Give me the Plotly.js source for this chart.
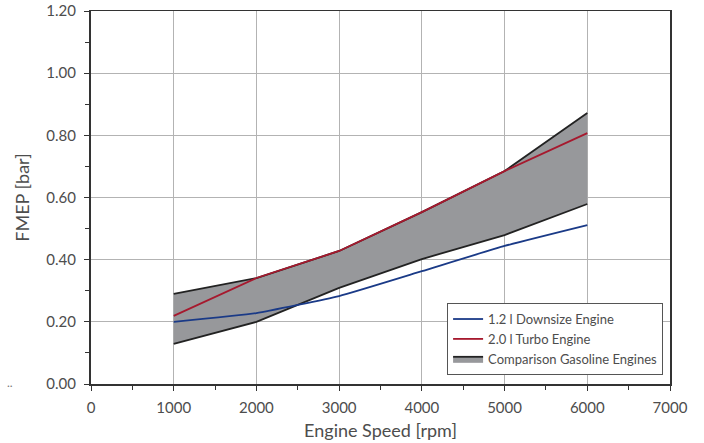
<!DOCTYPE html>
<html>
<head>
<meta charset="utf-8">
<script src="https://cdn.plot.ly/plotly-3.0.1.min.js"></script>
<style>
  html, body { margin: 0; padding: 0; background: #fff; }
  #chart { width: 704px; height: 443px; }
</style>
</head>
<body>
<div id="chart"></div>
<script>
// Engine speed sample points [rpm]
const speed = [1000, 2000, 3000, 4000, 5000, 6000];

// FMEP [bar]
const downsize12 = [0.20, 0.228, 0.283, 0.363, 0.444, 0.511];
const turbo20 = [0.219, 0.341, 0.428, 0.553, 0.685, 0.807];
const gasolineLow = [0.129, 0.200, 0.309, 0.402, 0.479, 0.579];
const gasolineHigh = [0.290, 0.341, 0.428, 0.553, 0.685, 0.872];

const xTicks = [0, 1000, 2000, 3000, 4000, 5000, 6000, 7000];
const yTicks = [0, 0.2, 0.4, 0.6, 0.8, 1.0, 1.2];

const textColor = '#4d4d4d';
const fontFamily = 'Lato, Open Sans, Liberation Sans, sans-serif';

const traces = [
  {
    x: speed, y: gasolineLow, mode: 'lines', type: 'scatter',
    line: { color: '#222222', width: 1.8 },
    showlegend: false, hoverinfo: 'skip'
  },
  {
    x: speed, y: gasolineHigh, mode: 'lines', type: 'scatter',
    fill: 'tonexty', fillcolor: '#97989b',
    line: { color: '#222222', width: 1.8 },
    name: 'Comparison Gasoline Engines', legendrank: 3
  },
  {
    x: speed, y: downsize12, mode: 'lines', type: 'scatter',
    line: { color: '#1a3a87', width: 1.8, shape: 'spline', smoothing: 0.4 },
    name: '1.2 l Downsize Engine', legendrank: 1
  },
  {
    x: speed, y: turbo20, mode: 'lines', type: 'scatter',
    line: { color: '#a6192e', width: 1.8 },
    name: '2.0 l Turbo Engine', legendrank: 2
  }
];

const layout = {
  width: 704, height: 443,
  margin: { l: 91, r: 34, t: 11, b: 59 },
  paper_bgcolor: '#ffffff', plot_bgcolor: '#ffffff',
  font: { family: fontFamily, color: textColor, size: 15 },
  xaxis: {
    range: [0, 7000], tickvals: xTicks, ticktext: xTicks.map(String),
    showgrid: true, gridcolor: '#b3b3b3', gridwidth: 1,
    showline: true, linecolor: '#333333', linewidth: 1.5, mirror: true,
    ticks: 'outside', ticklen: 5, tickcolor: '#333333',
    minor: { dtick: 500, ticks: 'outside', ticklen: 4, tickcolor: '#333333', showgrid: false },
    zeroline: false, ticklabelstandoff: 4,
    tickfont: { size: 15, color: textColor },
    title: { text: 'Engine Speed [rpm]', font: { size: 18, color: textColor }, standoff: 10 }
  },
  yaxis: {
    range: [0, 1.2], tickvals: yTicks, ticktext: yTicks.map(v => v.toFixed(2)),
    showgrid: true, gridcolor: '#b3b3b3', gridwidth: 1,
    showline: true, linecolor: '#333333', linewidth: 2, mirror: true,
    ticks: 'outside', ticklen: 5, tickcolor: '#333333',
    minor: { dtick: 0.1, ticks: 'outside', ticklen: 4, tickcolor: '#333333', showgrid: false },
    zeroline: false, ticklabelstandoff: 5,
    tickfont: { size: 15, color: textColor },
    title: { text: 'FMEP [bar]', font: { size: 18, color: textColor }, standoff: 12 }
  },
  legend: {
    x: 0.615, y: 0.217, xanchor: 'left', yanchor: 'top',
    traceorder: 'normal',
    bgcolor: '#ffffff', bordercolor: '#555555', borderwidth: 1,
    font: { size: 13, color: textColor }, tracegroupgap: 0,
    itemwidth: 30
  },
  annotations: [
    { text: '..', x: 0, y: 0, xref: 'paper', yref: 'y', xshift: -86, yshift: 2,
      showarrow: false, font: { size: 12, color: '#777777' } }
  ],
  showlegend: true
};

Plotly.newPlot('chart', traces, layout, { displayModeBar: false, staticPlot: true });
</script>
</body>
</html>
